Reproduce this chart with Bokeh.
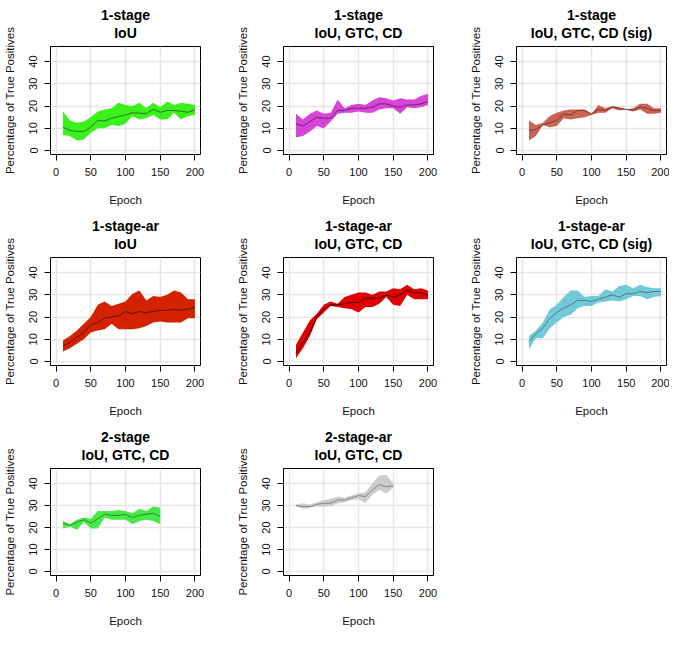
from bokeh.plotting import figure
from bokeh.layouts import gridplot
from bokeh.models import FixedTicker, Title, Range1d
from bokeh.embed import file_html
from bokeh.resources import INLINE

# ---------------- data ----------------
epochs_200 = [10, 20, 30, 40, 50, 60, 70, 80, 90, 100, 110, 120, 130, 140, 150, 160, 170, 180, 190, 200]
epochs_150 = [10, 20, 30, 40, 50, 60, 70, 80, 90, 100, 110, 120, 130, 140, 150]

x_ticks = [0, 50, 100, 150, 200]
y_ticks = [0, 10, 20, 30, 40]

# 1-stage, IoU
s1_iou_mean = [10.5, 9.0, 8.6, 8.6, 10.5, 13.5, 13.3, 14.5, 15.3, 16.0, 17.0, 16.8, 16.6, 18.5, 17.2, 18.0, 18.0, 17.7, 17.2, 18.3]
s1_iou_hi = [17.5, 13.5, 12.5, 13.0, 15.0, 17.5, 18.5, 19.0, 21.5, 20.5, 20.0, 21.5, 19.0, 21.5, 19.5, 22.0, 20.5, 21.5, 21.0, 20.5]
s1_iou_lo = [7.0, 6.5, 4.5, 5.0, 8.0, 10.0, 10.0, 11.5, 11.0, 12.0, 15.5, 14.0, 14.5, 16.0, 14.0, 14.0, 17.0, 14.0, 15.5, 16.0]

# 1-stage, IoU GTC CD
s1_all_mean = [12.0, 11.0, 13.0, 15.0, 14.5, 14.5, 18.0, 18.0, 19.0, 19.0, 19.0, 19.5, 21.0, 21.0, 20.0, 19.5, 20.5, 20.5, 21.0, 22.0]
s1_all_hi = [16.5, 14.0, 16.5, 18.0, 16.5, 17.0, 23.0, 19.0, 20.5, 21.0, 20.5, 22.5, 24.0, 23.5, 22.5, 23.5, 23.0, 23.0, 24.5, 25.5]
s1_all_lo = [6.0, 6.5, 8.5, 11.0, 10.0, 13.0, 16.5, 17.0, 17.0, 17.5, 17.0, 17.0, 18.5, 19.0, 19.0, 16.5, 19.5, 19.0, 19.5, 20.5]

# 1-stage, IoU GTC CD (sig)
s1_sig_mean = [9.0, 9.5, 11.5, 12.5, 13.5, 16.5, 16.0, 18.0, 18.0, 16.5, 18.5, 18.0, 19.5, 19.0, 18.5, 18.0, 19.5, 19.0, 18.0, 18.0]
s1_sig_hi = [13.5, 11.5, 12.5, 15.5, 17.0, 18.0, 18.5, 18.5, 18.5, 16.5, 20.5, 19.0, 20.0, 19.5, 18.5, 19.0, 21.0, 21.0, 19.0, 19.0]
s1_sig_lo = [4.5, 6.5, 11.5, 10.5, 11.0, 14.5, 14.0, 14.5, 15.0, 16.0, 17.0, 17.0, 19.0, 18.0, 18.5, 17.5, 18.5, 16.5, 16.5, 17.0]

# 1-stage-ar, IoU
s1ar_iou_mean = [7.0, 8.5, 11.0, 13.0, 16.5, 17.5, 19.5, 20.0, 20.5, 22.5, 21.5, 22.5, 22.0, 22.5, 23.0, 23.0, 23.5, 23.0, 23.5, 24.5]
s1ar_iou_hi = [9.5, 11.5, 14.0, 17.0, 20.0, 25.5, 27.0, 25.0, 26.0, 27.0, 30.5, 32.0, 27.5, 29.5, 29.0, 30.0, 32.0, 31.0, 28.0, 28.0]
s1ar_iou_lo = [4.5, 6.0, 8.0, 10.0, 13.0, 14.0, 14.5, 17.0, 14.5, 14.5, 14.5, 15.0, 16.0, 17.5, 18.0, 17.5, 17.5, 17.5, 19.5, 19.5]

# 1-stage-ar, IoU GTC CD
s1ar_all_mean = [4.0, 8.5, 13.0, 20.0, 23.5, 25.5, 25.5, 26.0, 26.5, 26.5, 28.5, 28.5, 28.5, 30.0, 29.0, 30.0, 32.0, 31.0, 31.0, 30.0]
s1ar_all_hi = [7.5, 13.0, 18.5, 21.5, 25.5, 27.0, 26.0, 29.0, 30.0, 31.0, 31.0, 30.0, 31.5, 31.5, 33.0, 32.5, 34.5, 32.5, 33.0, 32.0]
s1ar_all_lo = [1.5, 6.0, 11.5, 19.0, 22.0, 25.0, 24.5, 24.0, 23.5, 22.0, 24.5, 24.5, 26.0, 29.0, 25.5, 25.0, 30.0, 28.0, 28.0, 28.0]

# 1-stage-ar, IoU GTC CD (sig)
s1ar_sig_mean = [9.0, 12.5, 15.0, 19.5, 22.0, 24.0, 25.5, 27.5, 27.5, 27.0, 28.0, 29.0, 30.0, 29.0, 30.5, 30.5, 31.5, 31.0, 31.5, 31.5]
s1ar_sig_hi = [11.5, 14.0, 17.5, 23.5, 25.5, 29.0, 32.0, 32.0, 29.0, 29.5, 29.5, 32.5, 31.5, 34.0, 34.5, 33.0, 34.5, 33.5, 33.0, 33.0]
s1ar_sig_lo = [5.5, 10.5, 10.5, 15.0, 17.5, 20.0, 21.0, 24.0, 25.0, 25.0, 26.5, 27.0, 27.5, 27.0, 28.0, 29.5, 29.5, 28.0, 29.0, 29.5]

# 2-stage, IoU GTC CD
s2_all_mean = [22.0, 21.0, 22.5, 23.5, 22.0, 24.0, 26.0, 25.5, 25.5, 26.0, 24.5, 25.5, 26.0, 26.5, 25.0]
s2_all_hi = [23.0, 21.5, 23.5, 24.5, 24.0, 27.5, 27.5, 27.5, 28.0, 27.5, 26.5, 28.5, 27.5, 29.5, 29.0]
s2_all_lo = [19.5, 20.5, 19.0, 22.5, 19.5, 19.5, 24.5, 23.5, 23.5, 23.5, 21.5, 23.0, 23.5, 23.0, 21.5]

# 2-stage-ar, IoU GTC CD
s2ar_all_mean = [30.0, 29.5, 29.5, 30.5, 31.0, 31.0, 32.5, 32.5, 33.5, 34.5, 34.0, 37.0, 39.5, 38.5, 39.0]
s2ar_all_hi = [30.5, 31.0, 30.5, 31.5, 32.5, 33.0, 34.0, 33.5, 34.5, 35.5, 36.0, 40.0, 43.5, 44.0, 40.0]
s2ar_all_lo = [29.5, 28.5, 29.0, 29.5, 29.5, 29.5, 31.0, 31.5, 32.5, 33.0, 31.0, 35.0, 37.0, 35.5, 38.0]

panels = [
    ("1-stage", "IoU", epochs_200, s1_iou_lo, s1_iou_hi, s1_iou_mean, "#3cf01c", "#1f7a1f"),
    ("1-stage", "IoU, GTC, CD", epochs_200, s1_all_lo, s1_all_hi, s1_all_mean, "#d843d8", "#6a2a6a"),
    ("1-stage", "IoU, GTC, CD (sig)", epochs_200, s1_sig_lo, s1_sig_hi, s1_sig_mean, "#cc6455", "#7a3a33"),
    ("1-stage-ar", "IoU", epochs_200, s1ar_iou_lo, s1ar_iou_hi, s1ar_iou_mean, "#d42200", "#5a1200"),
    ("1-stage-ar", "IoU, GTC, CD", epochs_200, s1ar_all_lo, s1ar_all_hi, s1ar_all_mean, "#e00000", "#3d0000"),
    ("1-stage-ar", "IoU, GTC, CD (sig)", epochs_200, s1ar_sig_lo, s1ar_sig_hi, s1ar_sig_mean, "#72c9d8", "#4f7e86"),
    ("2-stage", "IoU, GTC, CD", epochs_150, s2_all_lo, s2_all_hi, s2_all_mean, "#48ea48", "#2a8a2a"),
    ("2-stage-ar", "IoU, GTC, CD", epochs_150, s2ar_all_lo, s2ar_all_hi, s2ar_all_mean, "#cccccc", "#858585"),
]

FONT = "Liberation Sans"
col_widths = [233, 233, 203]
col_right = [33, 33, 3]
row_heights = [211, 211, 208]
row_bottom = [57, 57, 55]


def make_title(text, standoff):
    kw = dict(text=text, align="center", text_font=FONT, text_font_size="14px",
              text_font_style="bold", text_color="black", standoff=standoff,
              text_line_height=1.15)
    try:
        return Title(text_align="center", **kw)
    except Exception:
        return Title(**kw)


def make_panel(t1, t2, x, lo, hi, mean, band, line, ci, ri):
    p = figure(width=col_widths[ci], height=row_heights[ri],
               x_range=Range1d(-8, 208), y_range=Range1d(-1.8, 46.8),
               output_backend="svg", toolbar_location=None, title=None,
               min_border_left=50, min_border_right=col_right[ci],
               min_border_top=42, min_border_bottom=row_bottom[ri],
               x_axis_label="Epoch", y_axis_label="Percentage of True Positives")
    p.add_layout(make_title(t1 + "\n" + t2, 10), "above")
    p.background_fill_color = "white"
    p.border_fill_color = "white"
    p.outline_line_color = "black"
    p.outline_line_width = 1
    p.outline_line_alpha = 1.0

    p.varea(x=x, y1=lo, y2=hi, fill_color=band, fill_alpha=1.0)
    p.line(x, mean, line_color=line, line_width=1)

    p.xaxis.ticker = FixedTicker(ticks=x_ticks)
    p.yaxis.ticker = FixedTicker(ticks=y_ticks)
    p.xgrid.ticker = FixedTicker(ticks=x_ticks)
    p.ygrid.ticker = FixedTicker(ticks=y_ticks)
    for g in (p.xgrid, p.ygrid):
        g.grid_line_color = "#e6e6e6"
        g.grid_line_width = 1.5
    for ax in (p.xaxis, p.yaxis):
        ax.axis_line_color = None
        ax.minor_tick_line_color = None
        ax.major_tick_in = 0
        ax.major_tick_out = 6
        ax.major_tick_line_color = "black"
        ax.major_label_standoff = 7
        ax.major_label_text_font = FONT
        ax.major_label_text_font_size = "11px"
        ax.major_label_text_color = "#111111"
        ax.axis_label_text_font = FONT
        ax.axis_label_text_font_size = "11.5px"
        ax.axis_label_text_font_style = "normal"
        ax.axis_label_text_color = "#111111"
    p.xaxis.axis_label_standoff = 15
    p.yaxis.axis_label_standoff = 11
    p.yaxis.major_label_orientation = "vertical"
    return p


figs = []
for i, pan in enumerate(panels):
    figs.append(make_panel(*pan, i % 3, i // 3))

grid = gridplot([[figs[0], figs[1], figs[2]],
                 [figs[3], figs[4], figs[5]],
                 [figs[6], figs[7], None]], toolbar_location=None)

open("out.html", "w").write(file_html(grid, INLINE))
